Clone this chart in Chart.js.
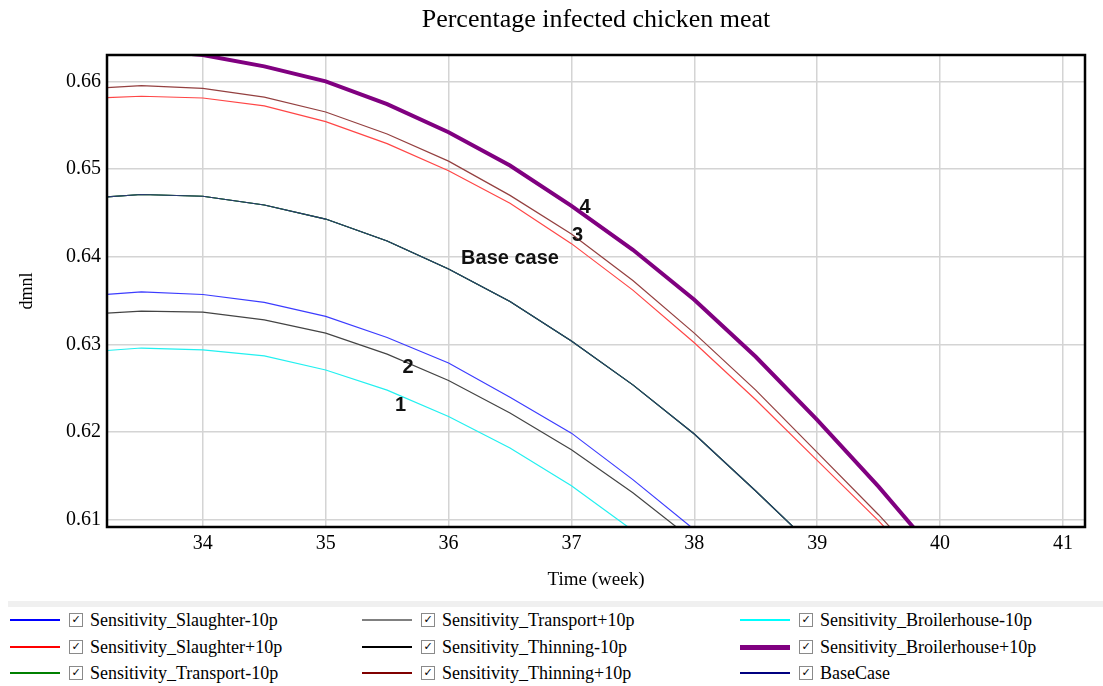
<!DOCTYPE html>
<html lang="en">
<head>
<title>Percentage infected chicken meat</title>
<script src="https://cdn.jsdelivr.net/npm/chart.js"></script>
<style>
    body { margin: 0; background: #fff; }
    #chartContainer { position: relative; width: 1103px; height: 598px; }
    #legend {
        position: relative; width: 1103px; height: 88px;
        font-family: "Liberation Serif", "Times New Roman", serif; font-size: 18px; color: #000;
    }
    #legend .band { position: absolute; left: 8px; right: 0; top: 3px; height: 6px; background: #f0f0f0; }
    .item { position: absolute; height: 20px; display: flex; align-items: center; white-space: nowrap; }
    .swatch { width: 50px; height: 0; border-top: 2px solid #000; margin-right: 9px; }
    .box {
        width: 12px; height: 12px; border: 1px solid #8a8a8a; margin-right: 7px;
        font: bold 11px "DejaVu Sans", sans-serif; line-height: 12px; text-align: center;
    }
</style>
</head>
<body>

<div id="chartContainer">
    <canvas id="infectedChart"></canvas>
</div>
<div id="legend"><div class="band"></div></div>

<script>
// time axis (weeks) the model was sampled at
const weeks = [33, 33.5, 34, 34.5, 35, 35.5, 36, 36.5, 37, 37.5, 38, 38.5, 39, 39.5, 40];

// series values (dmnl)
const slaughterMinus    = [0.6355, 0.6360, 0.6357, 0.6348, 0.6332, 0.6308, 0.6279, 0.6240, 0.6199, 0.6146, 0.6089, null, null, null, null];
const slaughterPlus     = [0.6580, 0.6583, 0.6581, 0.6572, 0.6554, 0.6529, 0.6498, 0.6461, 0.6415, 0.6362, 0.6302, 0.6237, 0.6168, 0.6099, 0.6025];
const transportMinus    = [0.6466, 0.6471, 0.6469, 0.6459, 0.6443, 0.6418, 0.6386, 0.6349, 0.6304, 0.6254, 0.6198, 0.6133, 0.6066, null, null];
const transportPlus     = [0.6466, 0.6471, 0.6469, 0.6459, 0.6443, 0.6418, 0.6386, 0.6349, 0.6304, 0.6254, 0.6198, 0.6133, 0.6066, null, null];
const thinningMinus     = [0.6334, 0.6338, 0.6337, 0.6328, 0.6313, 0.6289, 0.6259, 0.6222, 0.6180, 0.6131, 0.6076, null, null, null, null];
const thinningPlus      = [0.6591, 0.6595, 0.6592, 0.6582, 0.6565, 0.6540, 0.6509, 0.6470, 0.6426, 0.6373, 0.6313, 0.6248, 0.6177, 0.6106, 0.6030];
const broilerhouseMinus = [0.6291, 0.6296, 0.6294, 0.6287, 0.6271, 0.6248, 0.6218, 0.6182, 0.6139, 0.6088, null, null, null, null, null];
const broilerhousePlus  = [0.6636, 0.6636, 0.6630, 0.6617, 0.6600, 0.6574, 0.6542, 0.6504, 0.6458, 0.6408, 0.6351, 0.6286, 0.6214, 0.6138, 0.6056];
const baseCase          = [0.6466, 0.6471, 0.6469, 0.6459, 0.6443, 0.6418, 0.6386, 0.6349, 0.6304, 0.6254, 0.6198, 0.6133, 0.6066, null, null];

const xTicks = [34, 35, 36, 37, 38, 39, 40, 41];
const yTicks = [0.61, 0.62, 0.63, 0.64, 0.65, 0.66];

// text labels drawn inside the plot
const noteTexts  = ['4', '3', 'Base case', '2', '1'];
const noteWeeks  = [37.11, 37.05, 36.50, 35.67, 35.61];
const noteValues = [0.6456, 0.6424, 0.6398, 0.6274, 0.6231];

const chartTitle = 'Percentage infected chicken meat';
const serif = '"Liberation Serif", "Times New Roman", serif';

function toPoints(values) {
    return weeks.map((w, i) => ({ x: w, y: values[i] }));
}

const seriesList = [
    { name: 'Sensitivity_Slaughter-10p',    values: slaughterMinus,    line: '#3c3cff', key: '#0000ff', width: 1.2 },
    { name: 'Sensitivity_Slaughter+10p',    values: slaughterPlus,     line: '#ff4646', key: '#ff0000', width: 1.2 },
    { name: 'Sensitivity_Transport-10p',    values: transportMinus,    line: '#008000', key: '#008000', width: 1.2 },
    { name: 'Sensitivity_Transport+10p',    values: transportPlus,     line: '#808080', key: '#808080', width: 1.2 },
    { name: 'Sensitivity_Thinning-10p',     values: thinningMinus,     line: '#444444', key: '#000000', width: 1.2 },
    { name: 'Sensitivity_Thinning+10p',     values: thinningPlus,      line: '#944040', key: '#800000', width: 1.2 },
    { name: 'Sensitivity_Broilerhouse-10p', values: broilerhouseMinus, line: '#22f0f0', key: '#00ffff', width: 1.2 },
    { name: 'Sensitivity_Broilerhouse+10p', values: broilerhousePlus,  line: '#800080', key: '#800080', width: 4 },
    { name: 'BaseCase',                     values: baseCase,          line: '#2a3a72', key: '#000080', width: 1.2 }
];

// frame round the plot area, the title over it and the in-plot labels
const framePlugin = {
    id: 'frameAndNotes',
    afterDatasetsDraw(chart) {
        const { ctx, chartArea: a, scales } = chart;
        ctx.save();
        ctx.fillStyle = '#111';
        ctx.font = 'bold 20px "Liberation Sans", Arial, sans-serif';
        ctx.textAlign = 'center';
        ctx.textBaseline = 'middle';
        noteTexts.forEach((t, i) => {
            ctx.fillText(t, scales.x.getPixelForValue(noteWeeks[i]), scales.y.getPixelForValue(noteValues[i]));
        });
        ctx.fillStyle = '#000';
        ctx.font = '26px ' + serif;
        ctx.fillText(chartTitle, (a.left + a.right) / 2, 20);
        ctx.strokeStyle = '#000';
        ctx.lineWidth = 2.5;
        ctx.strokeRect(a.left, a.top, a.right - a.left, a.bottom - a.top);
        ctx.restore();
    }
};

const ctx = document.getElementById('infectedChart').getContext('2d');
const infectedChart = new Chart(ctx, {
    type: 'line',
    data: {
        datasets: seriesList.map((s, i) => ({
            label: s.name,
            data: toPoints(s.values),
            borderColor: s.line,
            backgroundColor: s.line,
            borderWidth: s.width,
            pointRadius: 0,
            tension: 0,
            clip: 0,
            order: s.name === 'BaseCase' ? -1 : i
        }))
    },
    options: {
        responsive: true,
        maintainAspectRatio: false,
        animation: false,
        layout: { padding: { left: 0, right: 18, top: 55, bottom: 0 } },
        plugins: {
            legend: { display: false },
            tooltip: { enabled: false },
            title: { display: false }
        },
        scales: {
            x: {
                type: 'linear',
                min: 33.22,
                max: 41.18,
                afterBuildTicks: s => { s.ticks = xTicks.map(v => ({ value: v })); },
                afterFit: s => { s.height = 71; },
                grid: { color: '#d4d4d4', lineWidth: 1.5, drawTicks: false },
                border: { display: false },
                ticks: {
                    color: '#000',
                    padding: 5,
                    autoSkip: false,
                    maxRotation: 0,
                    font: { family: serif, size: 20 },
                    callback: v => String(v)
                },
                title: {
                    display: true,
                    text: 'Time (week)',
                    color: '#000',
                    font: { family: serif, size: 19 },
                    padding: { top: 0, bottom: 6.5 }
                }
            },
            y: {
                min: 0.6092,
                max: 0.6630,
                afterBuildTicks: s => { s.ticks = yTicks.map(v => ({ value: v })); },
                afterFit: s => { s.width = 107; },
                grid: { color: '#d4d4d4', lineWidth: 1.5, drawTicks: false },
                border: { display: false },
                ticks: {
                    color: '#000',
                    padding: 6,
                    autoSkip: false,
                    font: { family: serif, size: 20 },
                    callback: v => v.toFixed(2)
                },
                title: {
                    display: true,
                    text: 'dmnl',
                    color: '#000',
                    font: { family: serif, size: 18 },
                    padding: { top: 16, bottom: 0 }
                }
            }
        }
    },
    plugins: [framePlugin]
});

// legend below the chart, three columns filled top to bottom
const legendEl = document.getElementById('legend');
const colLefts = [10, 362, 740];
const rowTops = [12, 39, 65];
seriesList.forEach((s, i) => {
    const item = document.createElement('div');
    item.className = 'item';
    item.style.left = colLefts[Math.floor(i / 3)] + 'px';
    item.style.top = rowTops[i % 3] + 'px';
    const sw = document.createElement('span');
    sw.className = 'swatch';
    sw.style.borderTopColor = s.key;
    sw.style.borderTopWidth = (s.width > 2 ? 5 : 2) + 'px';
    const box = document.createElement('span');
    box.className = 'box';
    box.textContent = '\u2713';
    const txt = document.createElement('span');
    txt.textContent = s.name;
    item.append(sw, box, txt);
    legendEl.appendChild(item);
});
</script>

</body>
</html>
